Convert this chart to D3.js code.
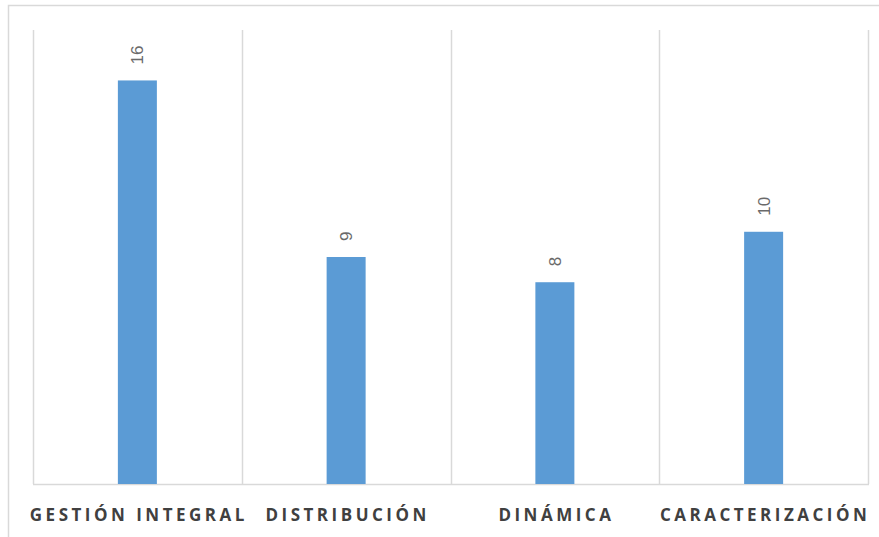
<!DOCTYPE html>
<html>
<head>
<meta charset="utf-8">
<script src="https://cdn.jsdelivr.net/npm/d3@7"></script>
<style>
  html, body { margin: 0; padding: 0; background: #fff; }
  svg { display: block; }
</style>
</head>
<body>
<svg id="chart" width="879" height="537"></svg>
<script>
// Categories and counts
const categories = ["GESTIÓN INTEGRAL", "DISTRIBUCIÓN", "DINÁMICA", "CARACTERIZACIÓN"];
const values = [16, 9, 8, 10];
const yDomain = [0, 18];

const svg = d3.select("#chart");
const W = 879, H = 537;
const plot = { left: 33, right: 868, top: 30, bottom: 484 };

// Chart area frame (top and left edges visible)
svg.append("rect")
  .attr("x", 8.5).attr("y", 5.5)
  .attr("width", W + 20).attr("height", H + 20)
  .attr("fill", "#fff")
  .attr("stroke", "#D9D9D9")
  .attr("stroke-width", 1.5);

const x = d3.scaleBand()
  .domain(categories)
  .range([plot.left, plot.right])
  .paddingInner(0)
  .paddingOuter(0);

const y = d3.scaleLinear().domain(yDomain).range([plot.bottom, plot.top]);

// Vertical separators between categories
const bounds = categories.map(c => x(c)).concat([plot.right]);
svg.append("g").selectAll("line")
  .data(bounds)
  .join("line")
  .attr("x1", d => Math.round(d) + 0.5)
  .attr("x2", d => Math.round(d) + 0.5)
  .attr("y1", plot.top)
  .attr("y2", plot.bottom)
  .attr("stroke", "#D9D9D9")
  .attr("stroke-width", 1.5);

// Baseline
svg.append("line")
  .attr("x1", plot.left).attr("x2", plot.right + 1)
  .attr("y1", plot.bottom + 0.5).attr("y2", plot.bottom + 0.5)
  .attr("stroke", "#D9D9D9")
  .attr("stroke-width", 1.5);

const barW = 39;
const data = categories.map((c, i) => ({ c, v: values[i] }));

svg.append("g").selectAll("rect")
  .data(data)
  .join("rect")
  .attr("x", d => x(d.c) + x.bandwidth() / 2 - barW / 2)
  .attr("y", d => y(d.v))
  .attr("width", barW)
  .attr("height", d => y(0) - y(d.v))
  .attr("fill", "#5B9BD5");

// Value labels, rotated above each bar
svg.append("g").selectAll("text")
  .data(data)
  .join("text")
  .attr("transform", d => `translate(${x(d.c) + x.bandwidth() / 2 + 6},${y(d.v) - 16}) rotate(-90)`)
  .attr("text-anchor", "start")
  .attr("font-family", "'Liberation Sans', Arial, sans-serif")
  .attr("font-size", 17)
  .attr("fill", "#6a6a6a")
  .text(d => d.v);

// Category axis labels
svg.append("g").selectAll("text")
  .data(categories)
  .join("text")
  .attr("x", d => x(d) + x.bandwidth() / 2 + 1.5)
  .attr("y", 521)
  .attr("text-anchor", "middle")
  .attr("font-family", "'Open Sans', 'Liberation Sans', sans-serif")
  .attr("font-weight", "bold")
  .attr("font-size", 17)
  .attr("letter-spacing", "3.5px")
  .attr("fill", "#404040")
  .text(d => d);
</script>
</body>
</html>
